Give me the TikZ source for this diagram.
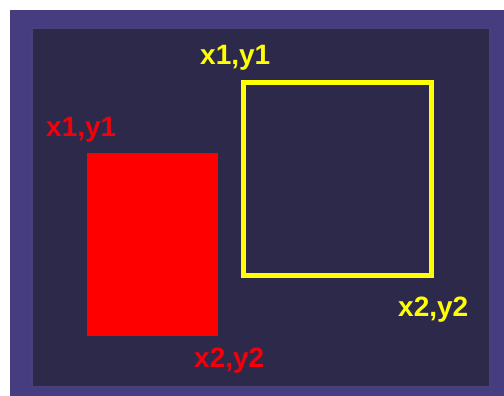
\documentclass[tikz,border=0pt]{standalone}
\usepackage{fontspec}
\usepackage{tikz}
\usetikzlibrary{positioning}
\newfontfamily\labelfont{Liberation Sans}
\definecolor{framecol}{RGB}{70,60,128}
\definecolor{frameedge}{RGB}{90,80,150}
\definecolor{panelcol}{RGB}{44,41,74}
\definecolor{lblred}{RGB}{245,0,10}
\definecolor{lblyellow}{RGB}{255,255,0}

\begin{document}
\begin{tikzpicture}[
    x=1pt, y=1pt,
    panelbox/.style={inner sep=0pt, outer sep=0pt, anchor=south west},
    filledbox/.style={fill=red, inner sep=0pt, outer sep=0pt, anchor=north west},
    outlinebox/.style={draw=lblyellow, line width=5pt, inner sep=0pt, outer sep=0pt},
    cornerlabel/.style={font=\labelfont\bfseries\fontsize{28}{28}\selectfont, inner sep=0pt, anchor=base west}
  ]
    \useasboundingbox (0,0) rectangle (504,396);
    \fill[white] (0,0) rectangle (504,396);

    % outer frame and dark panel
    \node[panelbox, fill=framecol, minimum width=500pt, minimum height=396pt] (frame) at (10,-10) {};
    \node[panelbox, fill=panelcol, draw=frameedge!60!panelcol, line width=1.5pt, minimum width=458pt, minimum height=359pt] (panel) at (32,9) {};

    % the two rectangles
    \node[filledbox, minimum width=131pt, minimum height=183pt] (redrect) at (87,243) {};
    \node[outlinebox, minimum width=188pt, minimum height=193pt] (yellowrect) at (337.5,217) {};

    % corner labels
    \node[cornerlabel, text=lblred] (redtopleft) at ([xshift=-41pt, yshift=16pt]redrect.north west) {x1,y1};
    \node[cornerlabel, text=lblred] (redbottomright) at ([xshift=-24pt, yshift=-32pt]redrect.south east) {x2,y2};
    \node[cornerlabel, text=lblyellow] (yellowtopleft) at ([xshift=-43.5pt, yshift=17.5pt]yellowrect.north west) {x1,y1};
    \node[cornerlabel, text=lblyellow] (yellowbottomright) at ([xshift=-33.5pt, yshift=-41.5pt]yellowrect.south east) {x2,y2};
  \end{tikzpicture}
\end{document}
